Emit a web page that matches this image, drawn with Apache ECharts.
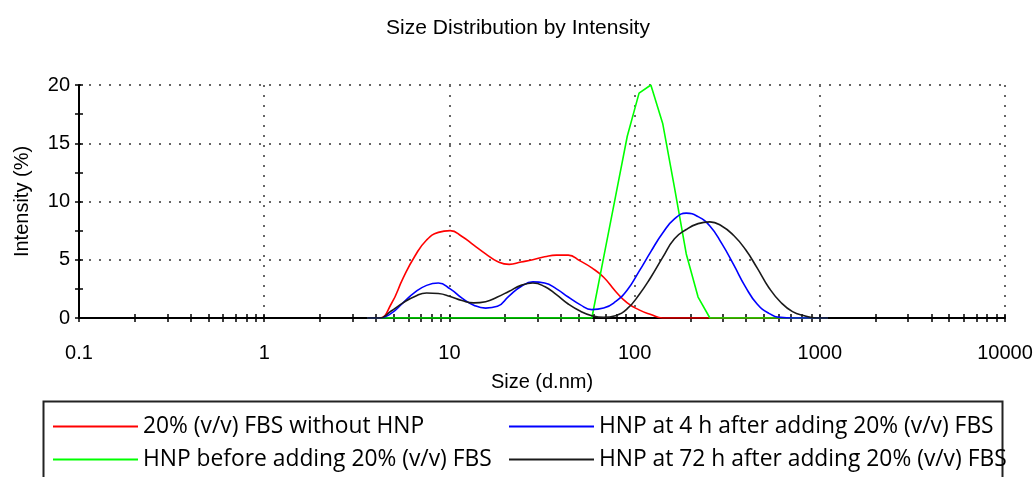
<!DOCTYPE html>
<html>
<head>
<meta charset="utf-8">
<script src="https://cdn.jsdelivr.net/npm/echarts@6/dist/echarts.min.js"></script>
<style>
  html, body { margin: 0; padding: 0; background: #fff; }
  #chart { width: 1036px; height: 477px; }
</style>
</head>
<body>
<div id="chart"></div>
<script>
// size bins (d.nm)
const sizes = [3.615, 4.187, 4.849, 5.615, 6.503, 7.531, 8.721, 10.1, 11.7, 13.54,
  15.69, 18.17, 21.04, 24.36, 28.21, 32.67, 37.84, 43.82, 50.75, 58.77,
  68.06, 78.82, 91.28, 105.7, 122.4, 141.8, 164.2, 190.1, 220.2, 255.0,
  295.3, 342.0, 396.1, 458.7, 531.2, 615.1, 712.4, 825.0, 955.4, 1106]

// intensity (%) per bin
const fbsOnly = [0, 0, 1.2, 3.4, 5.3, 6.7, 7.35, 7.5, 7.0, 6.25,
  5.5, 4.85, 4.6, 4.8, 5.0, 5.25, 5.4, 5.4, 4.9, 4.3,
  3.5, 2.3, 1.3, 0.7, 0.3, 0, 0, 0, 0, 0,
  0, 0, 0, 0, 0, 0, 0, 0, 0, 0]
const hnpBefore = [0, 0, 0, 0, 0, 0, 0, 0, 0, 0,
  0, 0, 0, 0, 0, 0, 0, 0, 0, 0,
  5.2, 10.4, 15.6, 19.3, 20.0, 16.7, 11.2, 5.5, 1.8, 0,
  0, 0, 0, 0, 0, 0, 0, 0, 0, 0]
const hnp4h = [0, 0, 0.4, 1.3, 2.2, 2.8, 3.0, 2.5, 1.7, 1.1,
  0.85, 1.0, 1.9, 2.7, 3.1, 3.0, 2.5, 1.8, 1.15, 0.72,
  0.85, 1.4, 2.4, 4.0, 5.7, 7.3, 8.5, 9.0, 8.7, 7.9,
  6.4, 4.6, 2.7, 1.2, 0.4, 0.05, 0, 0, 0, 0]
const hnp72h = [0, 0, 0.6, 1.3, 1.85, 2.15, 2.1, 1.85, 1.5, 1.3,
  1.4, 1.8, 2.3, 2.8, 3.0, 2.7, 2.0, 1.2, 0.6, 0.2,
  0.05, 0.2, 0.8, 2.0, 3.5, 5.2, 6.8, 7.6, 8.1, 8.25,
  7.9, 7.1, 5.9, 4.3, 2.6, 1.35, 0.55, 0.2, 0, 0]

const seriesNames = [
  '20% (v/v) FBS without HNP',
  'HNP before adding 20% (v/v) FBS',
  'HNP at 4 h after adding 20% (v/v) FBS',
  'HNP at 72 h after adding 20% (v/v) FBS'
]
const seriesColors = ['#ff0000', '#00ff00', '#0000ff', '#1a1a1a']
const seriesValues = [fbsOnly, hnpBefore, hnp4h, hnp72h]
const seriesSmooth = [0.5, false, 0.5, 0.5]
// legend slots: [left, top]
const legendSlots = [[53, 415], [53, 448], [509, 415], [509, 448]]

// log-axis ticks: 1..9 in each decade
const xTicks = []
for (let e = -1; e < 4; e++) {
  for (let m = 1; m < 10; m++) xTicks.push(+(m * Math.pow(10, e)).toPrecision(3))
}
xTicks.push(10000)
const yTicks = [0, 2.5, 5, 7.5, 10, 12.5, 15, 17.5, 20]

const axisFont = { fontFamily: 'Liberation Sans', fontSize: 20, color: '#000' }
const dotted = { color: '#666', width: 2, type: [2, 8] }
const tickStyle = { color: '#000', width: 1.5 }

function logAxis (extra) {
  return Object.assign({
    type: 'log',
    logBase: 10,
    min: 0.1,
    max: 10000,
    position: 'bottom',
    axisLine: { show: false },
    axisTick: { show: false },
    axisLabel: { show: false },
    splitLine: { show: false }
  }, extra)
}

function valAxis (extra) {
  return Object.assign({
    type: 'value',
    min: 0,
    max: 20,
    interval: 5,
    position: 'left',
    axisLine: { show: false },
    axisTick: { show: false },
    axisLabel: { show: false },
    splitLine: { show: false }
  }, extra)
}

const option = {
  animation: false,
  title: {
    text: 'Size Distribution by Intensity',
    left: 'center',
    top: 13,
    textStyle: { fontFamily: 'Liberation Sans', fontSize: 21, fontWeight: 'normal', color: '#000' }
  },
  grid: { left: 79, right: 31, top: 85, bottom: 159 },
  legend: seriesNames.map((name, i) => ({
    left: legendSlots[i][0],
    top: legendSlots[i][1],
    padding: 0,
    icon: 'rect',
    itemWidth: 85,
    itemHeight: 2,
    selectedMode: false,
    data: [name],
    textStyle: { fontFamily: 'Open Sans', fontSize: 22.8, color: '#000' }
  })),
  graphic: [{
    type: 'rect',
    left: 41,
    top: 399,
    shape: { width: 959, height: 100 },
    style: { fill: 'none', stroke: '#222', lineWidth: 2 }
  }],
  xAxis: [
    // grid lines at decades
    logAxis({ splitLine: { show: true, lineStyle: dotted } }),
    // main line, labels, outer ticks
    logAxis({
      name: 'Size (d.nm)',
      nameLocation: 'middle',
      nameGap: 54,
      nameTextStyle: axisFont,
      axisLine: { show: true, lineStyle: { color: '#000', width: 2 } },
      axisTick: { show: true, length: 4, customValues: xTicks, lineStyle: tickStyle },
      axisLabel: Object.assign({ show: true, margin: 25, formatter: v => String(v) }, axisFont)
    }),
    // inner ticks
    logAxis({ axisTick: { show: true, inside: true, length: 4, customValues: xTicks, lineStyle: tickStyle } })
  ],
  yAxis: [
    valAxis({ splitLine: { show: true, lineStyle: dotted } }),
    valAxis({
      name: 'Intensity (%)',
      nameLocation: 'middle',
      nameGap: 47,
      nameTextStyle: axisFont,
      axisLine: { show: true, lineStyle: { color: '#000', width: 2 } },
      axisTick: { show: true, length: 4, customValues: yTicks, lineStyle: tickStyle },
      axisLabel: Object.assign({ show: true, margin: 9 }, axisFont)
    }),
    valAxis({ axisTick: { show: true, inside: true, length: 4, customValues: yTicks, lineStyle: tickStyle } })
  ],
  series: seriesNames.map((name, i) => ({
    name: name,
    type: 'line',
    xAxisIndex: 1,
    yAxisIndex: 1,
    showSymbol: false,
    symbol: 'none',
    smooth: seriesSmooth[i],
    color: seriesColors[i],
    lineStyle: { width: 1.6, color: seriesColors[i] },
    data: sizes.map((s, j) => [s, seriesValues[i][j]])
  }))
}

const chart = echarts.init(document.getElementById('chart'))
chart.setOption(option)
</script>
</body>
</html>
